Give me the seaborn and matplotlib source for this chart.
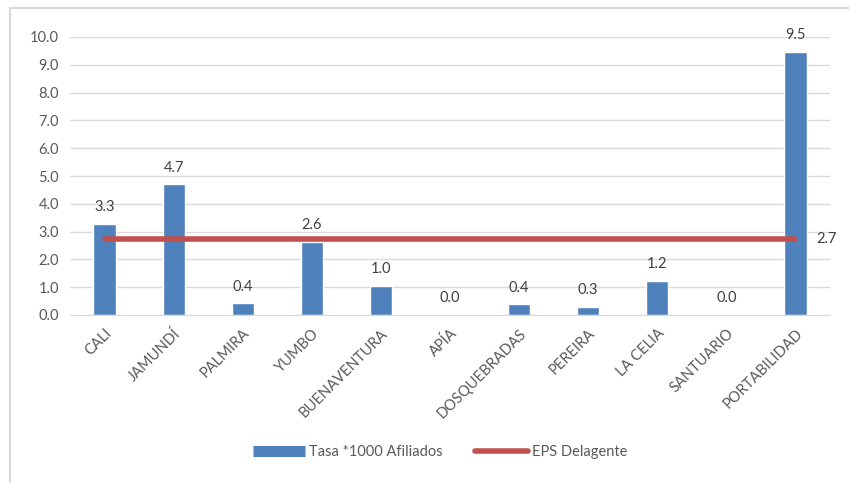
from matplotlib.lines import Line2D

import matplotlib
matplotlib.use("Agg")
import matplotlib.pyplot as plt
import pandas
import seaborn

municipios = ["CALI", "JAMUNDÍ", "PALMIRA", "YUMBO", "BUENAVENTURA", "APÍA",
              "DOSQUEBRADAS", "PEREIRA", "LA CELIA", "SANTUARIO", "PORTABILIDAD"]
tasa = [3.27, 4.7, 0.42, 2.62, 1.04, 0.0, 0.38, 0.29, 1.24, 0.0, 9.47]
etiquetas = ["3.3", "4.7", "0.4", "2.6", "1.0", "0.0", "0.4", "0.3", "1.2", "0.0", "9.5"]
eps_delagente = 2.72

blue = "#4F81BD"
red = "#C0504D"
gray = "#595959"
fs = 10.5

seaborn.set_style("white")
plt.rcParams["font.family"] = ["Lato", "DejaVu Sans"]

data = pandas.DataFrame({"municipio": municipios, "tasa": tasa})

fig = plt.figure(figsize=(8.49, 4.83), dpi=100)
ax = fig.add_axes([70 / 849, 1 - 315 / 483, 760 / 849, (315 - 37) / 483])
seaborn.barplot(data=data, x="municipio", y="tasa", color=blue, width=0.32,
                saturation=1, ax=ax)
xs = list(range(len(municipios)))
seaborn.lineplot(x=xs, y=[eps_delagente] * len(xs), color=red, linewidth=4,
                 solid_capstyle="round", ax=ax)

for x, v, t in zip(xs, tasa, etiquetas):
    ax.text(x, v + 0.35, t, ha="center", va="bottom", fontsize=fs, color="#404040")
ax.text(xs[-1] + 0.3, eps_delagente, "2.7", ha="left", va="center",
        fontsize=fs, color="#404040")

ax.set_ylim(0, 10)
ax.set_xlim(-0.5, len(xs) - 0.5)
ax.set_yticks([i for i in range(11)])
ax.set_yticklabels([f"{i:.1f}" for i in range(11)], color=gray, fontsize=fs)
ax.set_xticks(xs)
ax.set_xticklabels(municipios, rotation=45, ha="right", rotation_mode="anchor",
                   color=gray, fontsize=fs)
ax.tick_params(axis="both", length=0, pad=8)
ax.set_xlabel("")
ax.set_ylabel("")
ax.grid(axis="y", color="#D9D9D9", linewidth=1)
ax.set_axisbelow(True)
for side in ["top", "right", "left"]:
    ax.spines[side].set_visible(False)
ax.spines["bottom"].set_color("#D9D9D9")

handles = [Line2D([0], [0], color=blue, linewidth=8, solid_capstyle="butt"),
           Line2D([0], [0], color=red, linewidth=4, solid_capstyle="round")]
fig.legend(handles, ["Tasa *1000 Afiliados", "EPS Delagente"], loc="center",
           bbox_to_anchor=(440 / 849, 1 - 452 / 483), ncol=2, frameon=False,
           fontsize=fs, handlelength=3.6, columnspacing=2.2, handletextpad=0.3,
           labelcolor=gray)

fig.add_artist(Line2D([10 / 849, 10 / 849], [0, 1 - 8 / 483], color="#D9D9D9",
                      linewidth=1.5, transform=fig.transFigure))
fig.add_artist(Line2D([10 / 849, 1], [1 - 8 / 483, 1 - 8 / 483], color="#D9D9D9",
                      linewidth=1.5, transform=fig.transFigure))

fig.savefig("out.png", dpi=100)
